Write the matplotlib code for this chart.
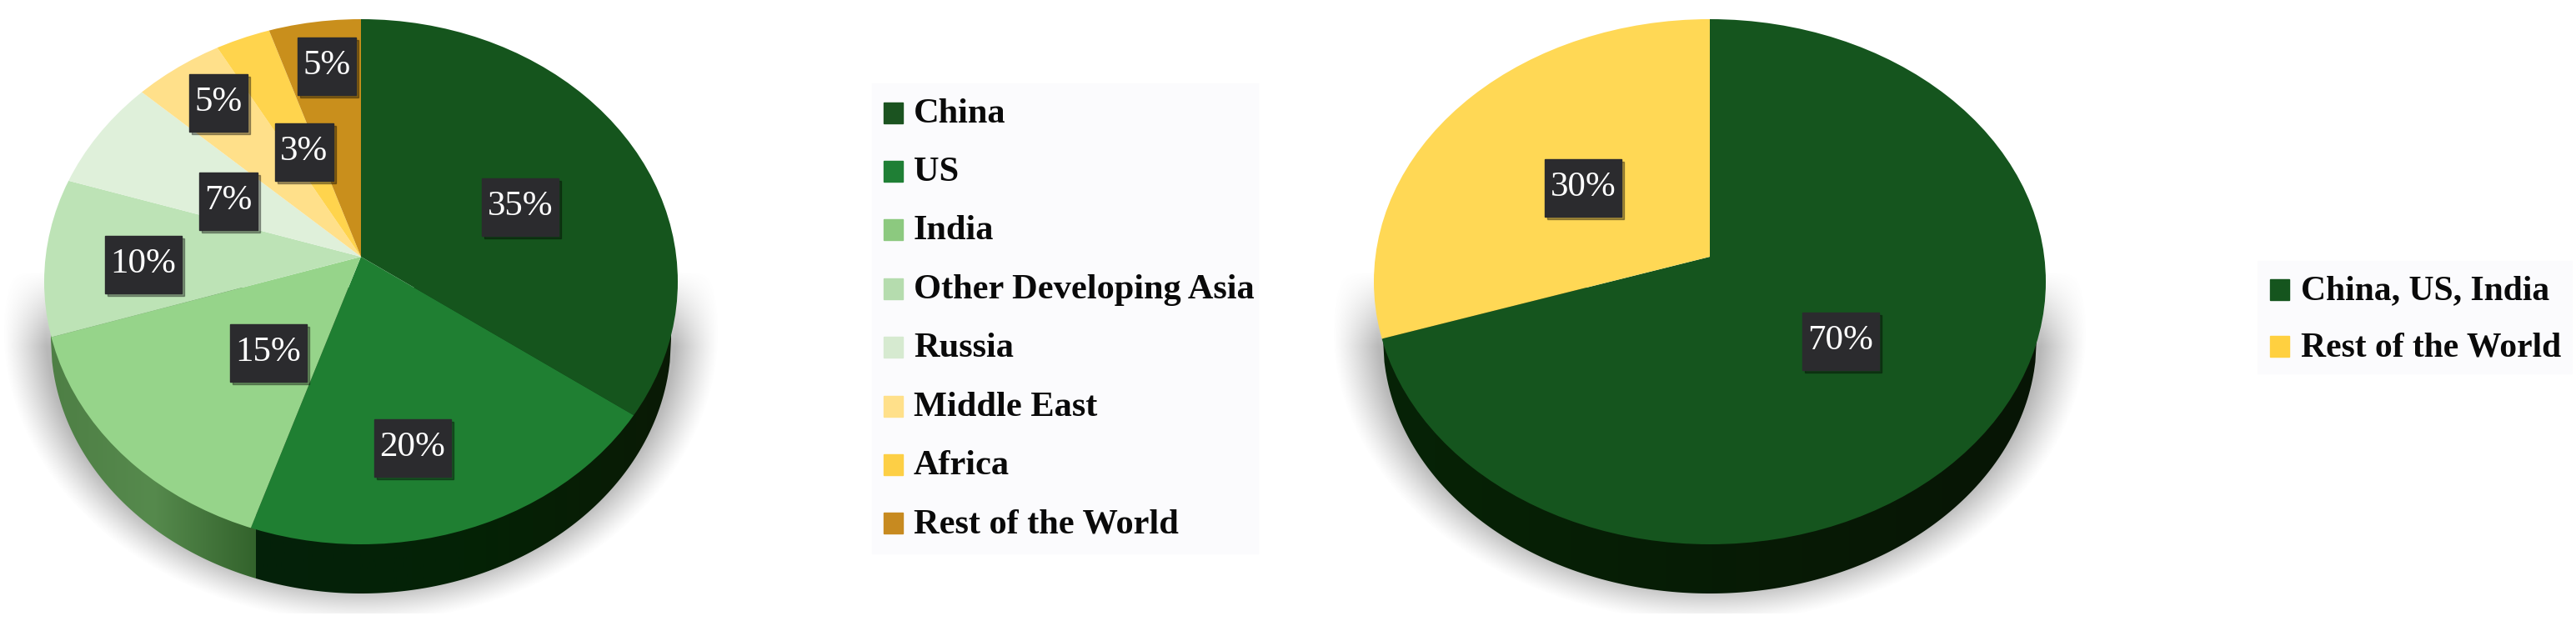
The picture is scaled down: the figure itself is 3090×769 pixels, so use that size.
import numpy as np
import matplotlib
matplotlib.use('Agg')
import matplotlib.pyplot as plt
from matplotlib.colors import LinearSegmentedColormap
from matplotlib.patches import Ellipse, Rectangle

# left pie
regions = ['China', 'US', 'India', 'Other Developing Asia', 'Russia', 'Middle East', 'Africa', 'Rest of the World']
shares = [35, 20, 15, 10, 7, 5, 3, 5]
colors = ['#15551d', '#1f7f32', '#96d48a', '#bde3b6', '#dff0da', '#ffe08a', '#ffd44d', '#c98f1c']
swatches = ['#1b5320', '#1f7f35', '#8cc97f', '#b5dcae', '#d6ead0', '#ffe08a', '#fdcf45', '#c78a20']

# right pie
regions2 = ['China, US, India', 'Rest of the World']
shares2 = [70, 30]
colors2 = ['#15551e', '#ffd855']
swatches2 = ['#15551e', '#ffd040']

# label box centres in pixels, same order as the shares
label_xy = [(624, 249), (495, 538), (322, 424), (172, 318), (274, 242), (262, 124), (365, 183), (392, 80)]
label_xy2 = [(2208, 410), (1899, 226)]

W, H = 3090, 769
fig = plt.figure(figsize=(W / 100, H / 100), dpi=100, facecolor='white')
base = fig.add_axes([0, 0, 1, 1])
base.set_xlim(0, W)
base.set_ylim(H, 0)
base.axis('off')


def shadow(cx, a):
    xs = np.arange(cx - a - 80, cx + a + 80)
    ys = np.arange(300, 737)
    xx, yy = np.meshgrid(xs, ys)
    d = np.sqrt(((xx - cx) / (a + 50)) ** 2 + ((yy - 395) / 352) ** 2)
    alpha = np.clip((1 - d) / 0.12, 0, 1) ** 1.2
    alpha = alpha * np.clip((yy - 325) / 90, 0, 1) * 0.55
    img = np.zeros(xx.shape + (4,))
    img[..., :3] = 0.5
    img[..., 3] = alpha
    base.imshow(img, extent=(xs[0], xs[-1], ys[-1], ys[0]), aspect='auto', zorder=1)


def side(cx, a, cy, b, depth, split, left_cols, right_cols):
    # the rim of the pie: flat part plus lower half of the shifted ellipse
    x = np.linspace(cx - a, cx + a, 500)
    u = (x - cx) / a
    low = cy + depth + b * np.sqrt(1 - u ** 2)
    poly = base.fill_between(x, cy, low, color='none', zorder=2)
    for x0, x1, cols in [(cx - a, split, left_cols), (split, cx + a, right_cols)]:
        if x1 <= x0:
            continue
        cm = LinearSegmentedColormap.from_list('s', cols)
        im = base.imshow(np.linspace(0, 1, 256)[None, :], cmap=cm, extent=(x0, x1, H, 0), aspect='auto', zorder=3)
        im.set_clip_path(poly.get_paths()[0], transform=base.transData)


def top(vals, cols, cx, a, cy, b, apex_y, k):
    ax = fig.add_axes([0, 0, 1, 1], facecolor='none', zorder=2)
    to_y = lambda p: (H - p) / k
    wedges, _ = ax.pie(vals, colors=cols, startangle=90, counterclock=False, radius=1500, center=(cx, to_y(apex_y)))
    ax.set_aspect('auto')
    ax.set_xlim(0, W)
    ax.set_ylim(0, H / k)
    ax.axis('off')
    face = Ellipse((cx, to_y(cy)), 2 * a, 2 * b / k, facecolor='none', edgecolor='none')
    ax.add_patch(face)
    for w in wedges:
        w.set_clip_on(True)
        w.set_clip_path(face)


def legend(box, x, ys, names, cols, size, off):
    base.add_patch(Rectangle((box[0], box[1]), box[2] - box[0], box[3] - box[1], color='#fbfbfd', zorder=1))
    for y, n, c in zip(ys, names, cols):
        base.add_patch(Rectangle((x, y - 12), 23, 25, color=c, zorder=2))
        base.text(x + off, y + 2, n, family='Liberation Serif', weight='bold', size=size, va='center', ha='left', color='#0a0a0a', zorder=3)


shadow(433, 380)
side(433, 372, 345, 305, 62, 307, ['#4e7f45', '#568a4d', '#33632c'], ['#04210a', '#042306', '#0a1a05'])
top(shares, colors, 433, 380, 338, 315, 308, 0.8)

shadow(2051, 403)
side(2051, 392, 345, 305, 62, 1000, ['#000000', '#000000'], ['#0a2c0c', '#062206', '#081505'])
top(shares2, colors2, 2051, 403, 338, 315, 308, 0.77)

legend((1046, 100, 1509, 664), 1060, [135, 205, 275, 346, 416, 487, 557, 627], regions, swatches, 30.5, 36)
legend((2708, 313, 3085, 448), 2723, [347, 415], regions2, swatches2, 30, 37)

# percentage labels on top of everything
over = fig.add_axes([0, 0, 1, 1], facecolor='none', zorder=5)
over.set_xlim(0, W)
over.set_ylim(H, 0)
over.axis('off')
for vals, pos in [(shares, label_xy), (shares2, label_xy2)]:
    for v, (x, y) in zip(vals, pos):
        w = 92 if v >= 10 else 70
        over.add_patch(Rectangle((x - w / 2 + 3, y - 32), w, 69, color='#000000', alpha=0.35))
        over.add_patch(Rectangle((x - w / 2, y - 35), w, 69, color='#2b2b2e'))
        over.text(x, y - 1, f'{v}%', color='white', family='Liberation Serif', size=31, ha='center', va='center')

plt.savefig('out.png', dpi=100)
